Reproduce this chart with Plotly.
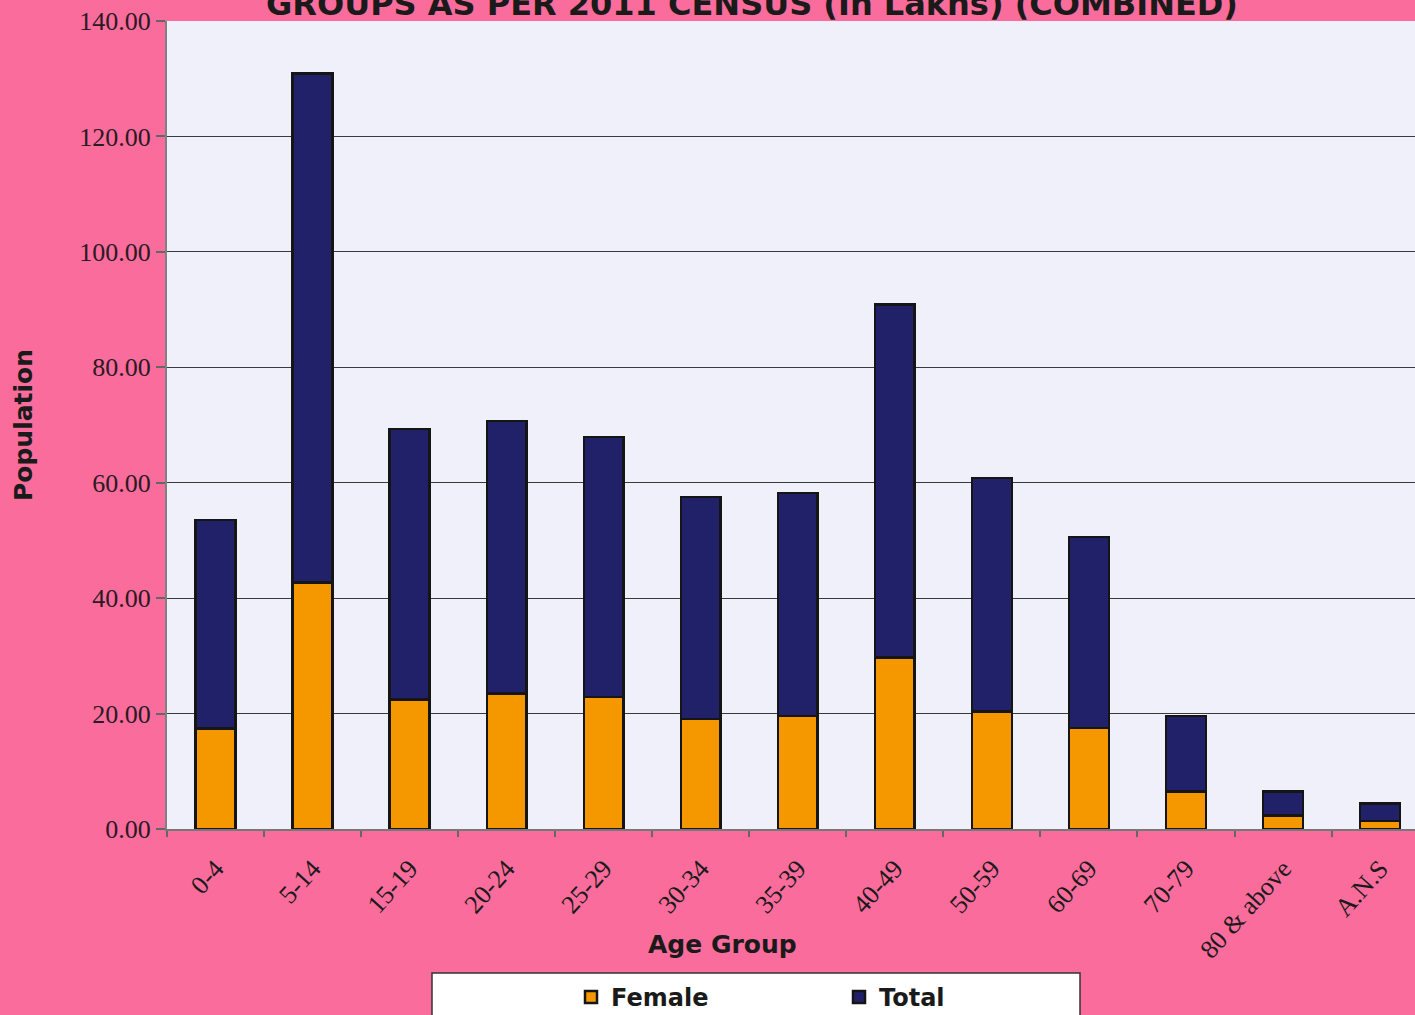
import plotly.graph_objects as go

age_groups = ["0-4", "5-14", "15-19", "20-24", "25-29", "30-34", "35-39",
              "40-49", "50-59", "60-69", "70-79", "80 & above", "A.N.S"]
female = [17.4, 42.7, 22.4, 23.5, 22.9, 19.1, 19.6, 29.7, 20.4, 17.5, 6.5, 2.3, 1.4]
total = [36.1, 88.2, 46.9, 47.2, 45.0, 38.4, 38.6, 61.2, 40.4, 33.1, 13.1, 4.2, 3.0]
y_tick_vals = [0, 20, 40, 60, 80, 100, 120, 140]

title_text = "GROUPS AS PER 2011 CENSUS (In Lakhs) (COMBINED)"

W, H = 1415, 1015
ML, MR, MT, MB = 167, 0, 21, 186
PW = W - ML - MR
PH = H - MT - MB

def px_x(p):
    return (p - ML) / PW

def px_y(p):
    return (H - MB - p) / PH

PINK = "#F96C9C"
PLOT_BG = "#F0F0FA"
ORANGE = "#F59800"
NAVY = "#212169"
SERIF = "Liberation Serif"
SANS = "DejaVu Sans"

fig = go.Figure()
fig.add_trace(go.Bar(x=age_groups, y=female, name="Female",
                     marker=dict(color=ORANGE, line=dict(color="#151515", width=2.5))))
fig.add_trace(go.Bar(x=age_groups, y=total, name="Total",
                     marker=dict(color=NAVY, line=dict(color="#151515", width=2.5))))

fig.update_layout(
    width=W, height=H,
    margin=dict(l=ML, r=MR, t=MT, b=MB, autoexpand=False),
    paper_bgcolor=PINK, plot_bgcolor=PLOT_BG,
    barmode="stack", bargap=0.59,
    title=dict(text=title_text, x=752 / W, xanchor="center", xref="container",
               y=1 - 4 / H, yanchor="middle", yref="container",
               font=dict(family=SANS, size=32, color="#1a1a1a", weight="bold")),
    xaxis=dict(range=[-0.5, 12.36], tickson="boundaries", ticks="outside", ticklen=6,
               tickcolor="#666666", tickwidth=1.5, tickangle=-48, ticklabelstandoff=12,
               tickfont=dict(family=SERIF, size=26, color="#1a1a1a"),
               showline=True, linecolor="#777777", linewidth=2, showgrid=False,
               fixedrange=True),
    yaxis=dict(range=[0, 140], tickvals=y_tick_vals, tickformat=".2f",
               ticks="outside", ticklen=9, tickcolor="#666666", tickwidth=1.5,
               tickfont=dict(family=SERIF, size=26, color="#2a1a22"),
               showline=True, linecolor="#808080", linewidth=2,
               showgrid=True, gridcolor="#3a3a3a", gridwidth=1, zeroline=False,
               title=dict(text="Population", standoff=40,
                          font=dict(family=SANS, size=25, color="#1a1a1a", weight="bold")),
               fixedrange=True),
    showlegend=True,
    legend=dict(orientation="h", x=px_x(571), y=px_y(975), xanchor="left", yanchor="top",
                bgcolor="rgba(0,0,0,0)", borderwidth=0, entrywidth=223, itemwidth=30,
                traceorder="normal",
                font=dict(family=SANS, size=24, color="#1a1a1a", weight="bold")),
    shapes=[dict(type="rect", xref="paper", yref="paper",
                 x0=px_x(432), x1=px_x(1080), y0=px_y(1030), y1=px_y(973),
                 fillcolor="white", line=dict(color="#333333", width=1.5), layer="above")],
    annotations=[dict(text="Age Group", xref="paper", yref="paper",
                      x=px_x(722), y=px_y(944), xanchor="center", yanchor="middle",
                      showarrow=False,
                      font=dict(family=SANS, size=25, color="#1a1a1a", weight="bold"))],
)

fig.write_html("out.html", config={"displayModeBar": False},
               post_script="document.body.style.margin='0';document.body.style.overflow='hidden';")
